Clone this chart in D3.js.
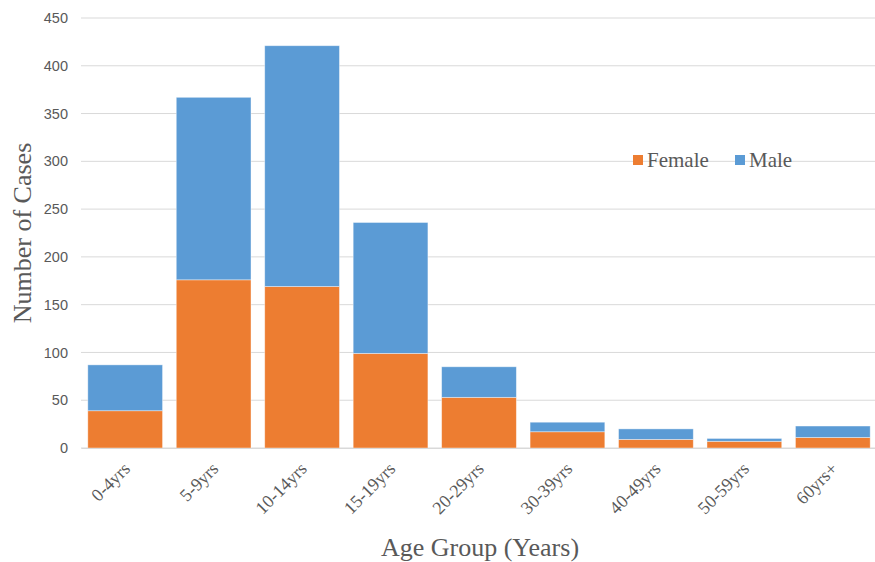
<!DOCTYPE html>
<html lang="en">
<head>
  <meta charset="UTF-8">
  <script src="https://d3js.org/d3.v7.min.js"></script>
  <style>
    body { margin: 0; background: white; }
    .tick text { fill: #595959; }
  </style>
</head>
<body>
  <div id="chart"></div>
  <script>
    // data
    const ageGroups = ["0-4yrs", "5-9yrs", "10-14yrs", "15-19yrs", "20-29yrs", "30-39yrs", "40-49yrs", "50-59yrs", "60yrs+"];
    const female = [39, 176, 169, 99, 53, 17, 9, 7, 11];
    const male = [48, 191, 252, 137, 32, 10, 11, 3, 12];
    const yTicks = [0, 50, 100, 150, 200, 250, 300, 350, 400, 450];
    const seriesNames = ["Female", "Male"];
    const colors = ["#ed7d31", "#5b9bd5"];

    const W = 875, H = 562;
    const margin = { top: 18, right: -2, bottom: 114, left: 81 };
    const width = W - margin.left - margin.right,
          height = H - margin.top - margin.bottom;

    const svg = d3.select("#chart").append("svg")
      .attr("width", W).attr("height", H);
    const g = svg.append("g").attr("transform", `translate(${margin.left},${margin.top})`);

    const x = d3.scaleBand().domain(ageGroups).range([0, width]).paddingInner(0.155).paddingOuter(0.077);
    const y = d3.scaleLinear().domain([0, 450]).range([height, 0]);

    // gridlines
    g.selectAll(".grid").data(yTicks).enter().append("line")
      .attr("x1", 0).attr("x2", width)
      .attr("y1", d => y(d)).attr("y2", d => y(d))
      .attr("stroke", "#d9d9d9").attr("stroke-width", 1);

    const rows = ageGroups.map((a, i) => ({ age: a, Female: female[i], Male: male[i] }));
    const stacked = d3.stack().keys(seriesNames)(rows);

    g.selectAll(".series").data(stacked).enter().append("g")
      .attr("fill", (d, i) => colors[i])
      .selectAll("rect").data(d => d).enter().append("rect")
      .attr("x", d => x(d.data.age))
      .attr("width", x.bandwidth())
      .attr("y", d => y(d[1]))
      .attr("height", d => y(d[0]) - y(d[1]))
      .attr("stroke", "#ffffff").attr("stroke-opacity", 0.5).attr("stroke-width", 0.8);

    // y axis
    const yAxis = g.append("g").call(d3.axisLeft(y).tickValues(yTicks).tickSize(0).tickPadding(13));
    yAxis.select(".domain").remove();
    yAxis.selectAll("text").style("font-family", "'Liberation Sans', Arial, sans-serif").style("font-size", "14.5px");

    // x axis
    const xAxis = g.append("g").attr("transform", `translate(0,${height})`)
      .call(d3.axisBottom(x).tickSize(0).tickPadding(10));
    xAxis.select(".domain").attr("stroke", "#d9d9d9");
    xAxis.selectAll("text")
      .style("font-family", "'Liberation Serif', 'Times New Roman', serif")
      .style("font-size", "18px")
      .attr("text-anchor", "end")
      .attr("x", 0).attr("y", 0).attr("dy", "0.7em")
      .attr("transform", "translate(-3,13) rotate(-45)");

    // axis titles
    svg.append("text")
      .attr("transform", "translate(31,233) rotate(-90)")
      .attr("text-anchor", "middle")
      .style("font-family", "'Liberation Serif', 'Times New Roman', serif")
      .style("font-size", "26px").style("fill", "#595959")
      .text("Number of Cases");

    svg.append("text")
      .attr("x", 480).attr("y", 556)
      .attr("text-anchor", "middle")
      .style("font-family", "'Liberation Serif', 'Times New Roman', serif")
      .style("font-size", "26px").style("fill", "#595959")
      .text("Age Group (Years)");

    // legend
    const legendX = [633, 735];
    const legend = svg.selectAll(".legend").data(seriesNames).enter().append("g")
      .attr("transform", (d, i) => `translate(${legendX[i]},160)`);
    legend.append("rect").attr("x", 0).attr("y", -5).attr("width", 10).attr("height", 10)
      .attr("fill", (d, i) => colors[i]);
    legend.append("text").attr("x", 14).attr("y", 0).attr("dy", "0.35em")
      .style("font-family", "'Liberation Serif', 'Times New Roman', serif")
      .style("font-size", "21px").style("fill", "#595959")
      .text(d => d);
  </script>
</body>
</html>
